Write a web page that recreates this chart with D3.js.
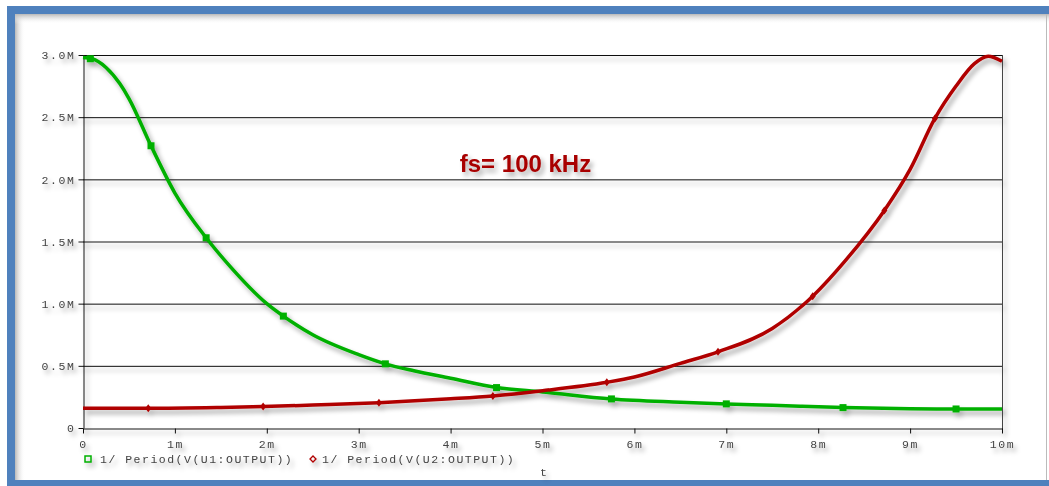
<!DOCTYPE html>
<html>
<head>
<meta charset="utf-8">
<script src="https://cdn.jsdelivr.net/npm/d3@7"></script>
<style>
  body { margin: 0; background: #fff; }
  text { font-family: "Courier New", "Liberation Mono", monospace; }
</style>
</head>
<body>
<div id="chart"></div>
<script>
// time in ms, frequency in M (MHz)
var tGreen = [0, 0.1, 0.25, 0.4, 0.5, 0.74, 1.0, 1.34, 1.6, 2.0, 2.18, 2.5, 3.0, 3.29, 3.6, 4.0, 4.5, 5.0, 5.75, 6.5, 7.0, 7.5, 8.27, 9.0, 9.5, 10];
var vGreen = [2.98, 2.97, 2.9, 2.77, 2.65, 2.27, 1.89, 1.53, 1.3, 1.0, 0.9, 0.75, 0.59, 0.516, 0.46, 0.4, 0.325, 0.29, 0.234, 0.208, 0.194, 0.183, 0.164, 0.155, 0.153, 0.152];
var tRed = [0, 0.71, 1.5, 1.96, 2.5, 3.22, 4.0, 4.46, 5.0, 5.7, 6.0, 6.5, 6.91, 7.5, 7.94, 8.3, 8.72, 9.0, 9.27, 9.5, 9.7, 9.85, 10];
var vRed = [0.158, 0.158, 0.165, 0.172, 0.185, 0.204, 0.235, 0.258, 0.3, 0.368, 0.41, 0.52, 0.613, 0.8, 1.06, 1.35, 1.75, 2.08, 2.49, 2.75, 2.93, 2.99, 2.95];

// symbol positions along each trace
var greenMarkT = [0.08, 0.74, 1.34, 2.18, 3.29, 4.5, 5.75, 7.0, 8.27, 9.5];
var greenMarkV = [2.97, 2.27, 1.53, 0.9, 0.516, 0.325, 0.234, 0.194, 0.164, 0.153];
var redMarkT = [0.71, 1.96, 3.22, 4.46, 5.7, 6.91, 7.94, 8.72, 9.27];
var redMarkV = [0.158, 0.172, 0.204, 0.258, 0.368, 0.613, 1.06, 1.75, 2.49];

var yTicks = [0, 0.5, 1, 1.5, 2, 2.5, 3];
var yTickLabels = ["0", "0.5M", "1.0M", "1.5M", "2.0M", "2.5M", "3.0M"];
var xTicks = [0, 1, 2, 3, 4, 5, 6, 7, 8, 9, 10];
var xTickLabels = ["0", "1m", "2m", "3m", "4m", "5m", "6m", "7m", "8m", "9m", "10m"];
var legendLabels = ["1/ Period(V(U1:OUTPUT))", "1/ Period(V(U2:OUTPUT))"];
var xTitle = "t";
var note = "fs= 100 kHz";

var green = "#00b000", red = "#b00000", frameBlue = "#4f81bd";

var W = 1049, H = 486;
var margin = {top: 55, right: 47, bottom: 58, left: 83},
    width = W - margin.left - margin.right,
    height = H - margin.top - margin.bottom;

var svg = d3.select("#chart")
  .append("svg")
    .attr("width", W)
    .attr("height", H);

var defs = svg.append("defs");

// soft drop shadow used on everything in the plot
var f = defs.append("filter").attr("id", "shadow")
  .attr("x", "-5%").attr("y", "-5%").attr("width", "115%").attr("height", "120%");
f.append("feGaussianBlur").attr("in", "SourceAlpha").attr("stdDeviation", 2.5).attr("result", "b");
f.append("feOffset").attr("in", "b").attr("dx", 3).attr("dy", 4).attr("result", "o");
f.append("feComponentTransfer").attr("in", "o").attr("result", "s")
  .append("feFuncA").attr("type", "linear").attr("slope", 0.35);
var fm = f.append("feMerge");
fm.append("feMergeNode").attr("in", "s");
fm.append("feMergeNode").attr("in", "SourceGraphic");

// inner shade gradients for the frame
var gl = defs.append("linearGradient").attr("id", "shadeL").attr("x1", 0).attr("x2", 1).attr("y1", 0).attr("y2", 0);
gl.append("stop").attr("offset", 0).attr("stop-color", "#b8b8b8");
gl.append("stop").attr("offset", 1).attr("stop-color", "#fff").attr("stop-opacity", 0);
var gt = defs.append("linearGradient").attr("id", "shadeT").attr("x1", 0).attr("x2", 0).attr("y1", 0).attr("y2", 1);
gt.append("stop").attr("offset", 0).attr("stop-color", "#b8b8b8");
gt.append("stop").attr("offset", 1).attr("stop-color", "#fff").attr("stop-opacity", 0);

// frame
svg.append("rect")
  .attr("x", 11).attr("y", 10).attr("width", W + 20).attr("height", 474)
  .attr("fill", "#fff").attr("stroke", frameBlue).attr("stroke-width", 8);
svg.append("rect").attr("x", 15).attr("y", 14).attr("width", 10).attr("height", 466).attr("fill", "url(#shadeL)");
svg.append("rect").attr("x", 15).attr("y", 14).attr("width", W).attr("height", 10).attr("fill", "url(#shadeT)");
svg.append("line").attr("x1", W - 2.5).attr("x2", W - 2.5).attr("y1", 14).attr("y2", 480)
  .attr("stroke", "#bbb").attr("stroke-width", 1);

var g = svg.append("g")
    .attr("transform", "translate(" + margin.left + "," + margin.top + ")")
    .attr("filter", "url(#shadow)");

var x = d3.scaleLinear().domain([0, 10]).range([0, width]);
var y = d3.scaleLinear().domain([0, 3]).range([height, 0]);

// horizontal grid
g.append("g")
  .selectAll("line")
  .data(yTicks.filter(function(d) { return d > 0; }))
  .join("line")
    .attr("x1", 0).attr("x2", width)
    .attr("y1", function(d) { return y(d) + 0.5; })
    .attr("y2", function(d) { return y(d) + 0.5; })
    .attr("stroke", "#111").attr("stroke-width", 1);

// right border
g.append("line")
  .attr("x1", width + 0.5).attr("x2", width + 0.5)
  .attr("y1", 0).attr("y2", height + 5)
  .attr("stroke", "#444").attr("stroke-width", 1);

// Y axis
var yAxis = g.append("g")
  .attr("transform", "translate(0.5,0)")
  .call(d3.axisLeft(y).tickValues(yTicks)
    .tickFormat(function(d, i) { return yTickLabels[i]; })
    .tickSize(5).tickPadding(3).tickSizeOuter(0));

// X axis
var xAxis = g.append("g")
  .attr("transform", "translate(0," + (height + 0.5) + ")")
  .call(d3.axisBottom(x).tickValues(xTicks)
    .tickFormat(function(d, i) { return xTickLabels[i]; })
    .tickSize(5).tickPadding(6).tickSizeOuter(0));

[yAxis, xAxis].forEach(function(a) {
  a.select(".domain").attr("stroke", "#111");
  a.selectAll(".tick line").attr("stroke", "#111");
  a.selectAll("text")
    .attr("fill", "#444")
    .style("font-family", "'Courier New', 'Liberation Mono', monospace")
    .style("font-size", "11.5px")
    .style("letter-spacing", "1.6px");
});

// traces
var line = d3.line()
  .x(function(d) { return x(d[0]); })
  .y(function(d) { return y(d[1]); })
  .curve(d3.curveMonotoneX);

var greenPts = tGreen.map(function(t, i) { return [t, vGreen[i]]; });
var redPts = tRed.map(function(t, i) { return [t, vRed[i]]; });

g.append("path").datum(greenPts)
  .attr("fill", "none").attr("stroke", green).attr("stroke-width", 3.5)
  .attr("d", line);
g.append("path").datum(redPts)
  .attr("fill", "none").attr("stroke", red).attr("stroke-width", 3.5)
  .attr("d", line);

// markers
g.append("g").selectAll("rect")
  .data(greenMarkT.map(function(t, i) { return [t, greenMarkV[i]]; }))
  .join("rect")
    .attr("x", function(d) { return x(d[0]) - 3.5; })
    .attr("y", function(d) { return y(d[1]) - 3.5; })
    .attr("width", 7).attr("height", 7)
    .attr("fill", green);

g.append("g").selectAll("path")
  .data(redMarkT.map(function(t, i) { return [t, redMarkV[i]]; }))
  .join("path")
    .attr("transform", function(d) { return "translate(" + x(d[0]) + "," + y(d[1]) + ")"; })
    .attr("d", "M0,-4L3,0L0,4L-3,0Z")
    .attr("fill", red);

// annotation
g.append("text")
  .attr("x", x(4.1))
  .attr("y", y(2.06))
  .attr("fill", "#a80000")
  .style("font-family", "Arial, 'Liberation Sans', sans-serif")
  .style("font-weight", "bold")
  .style("font-size", "24px")
  .text(note);

// legend
var leg = g.append("g").attr("transform", "translate(0," + (height + 31) + ")");
leg.append("rect")
  .attr("x", 2).attr("y", -3).attr("width", 6).attr("height", 6)
  .attr("fill", "none").attr("stroke", green).attr("stroke-width", 1.5);
leg.append("path")
  .attr("transform", "translate(230,0)")
  .attr("d", "M0,-3L3,0L0,3L-3,0Z")
  .attr("fill", "none").attr("stroke", red).attr("stroke-width", 1.3);
[17, 239].forEach(function(px, i) {
  leg.append("text")
    .attr("x", px).attr("y", 4)
    .attr("fill", "#444")
    .style("font-size", "11.5px")
    .style("letter-spacing", "1.5px")
    .text(legendLabels[i]);
});

g.append("text")
  .attr("x", x(5) + 1).attr("y", height + 48)
  .attr("text-anchor", "middle")
  .attr("fill", "#444")
  .style("font-size", "11.5px")
  .text(xTitle);
</script>
</body>
</html>
